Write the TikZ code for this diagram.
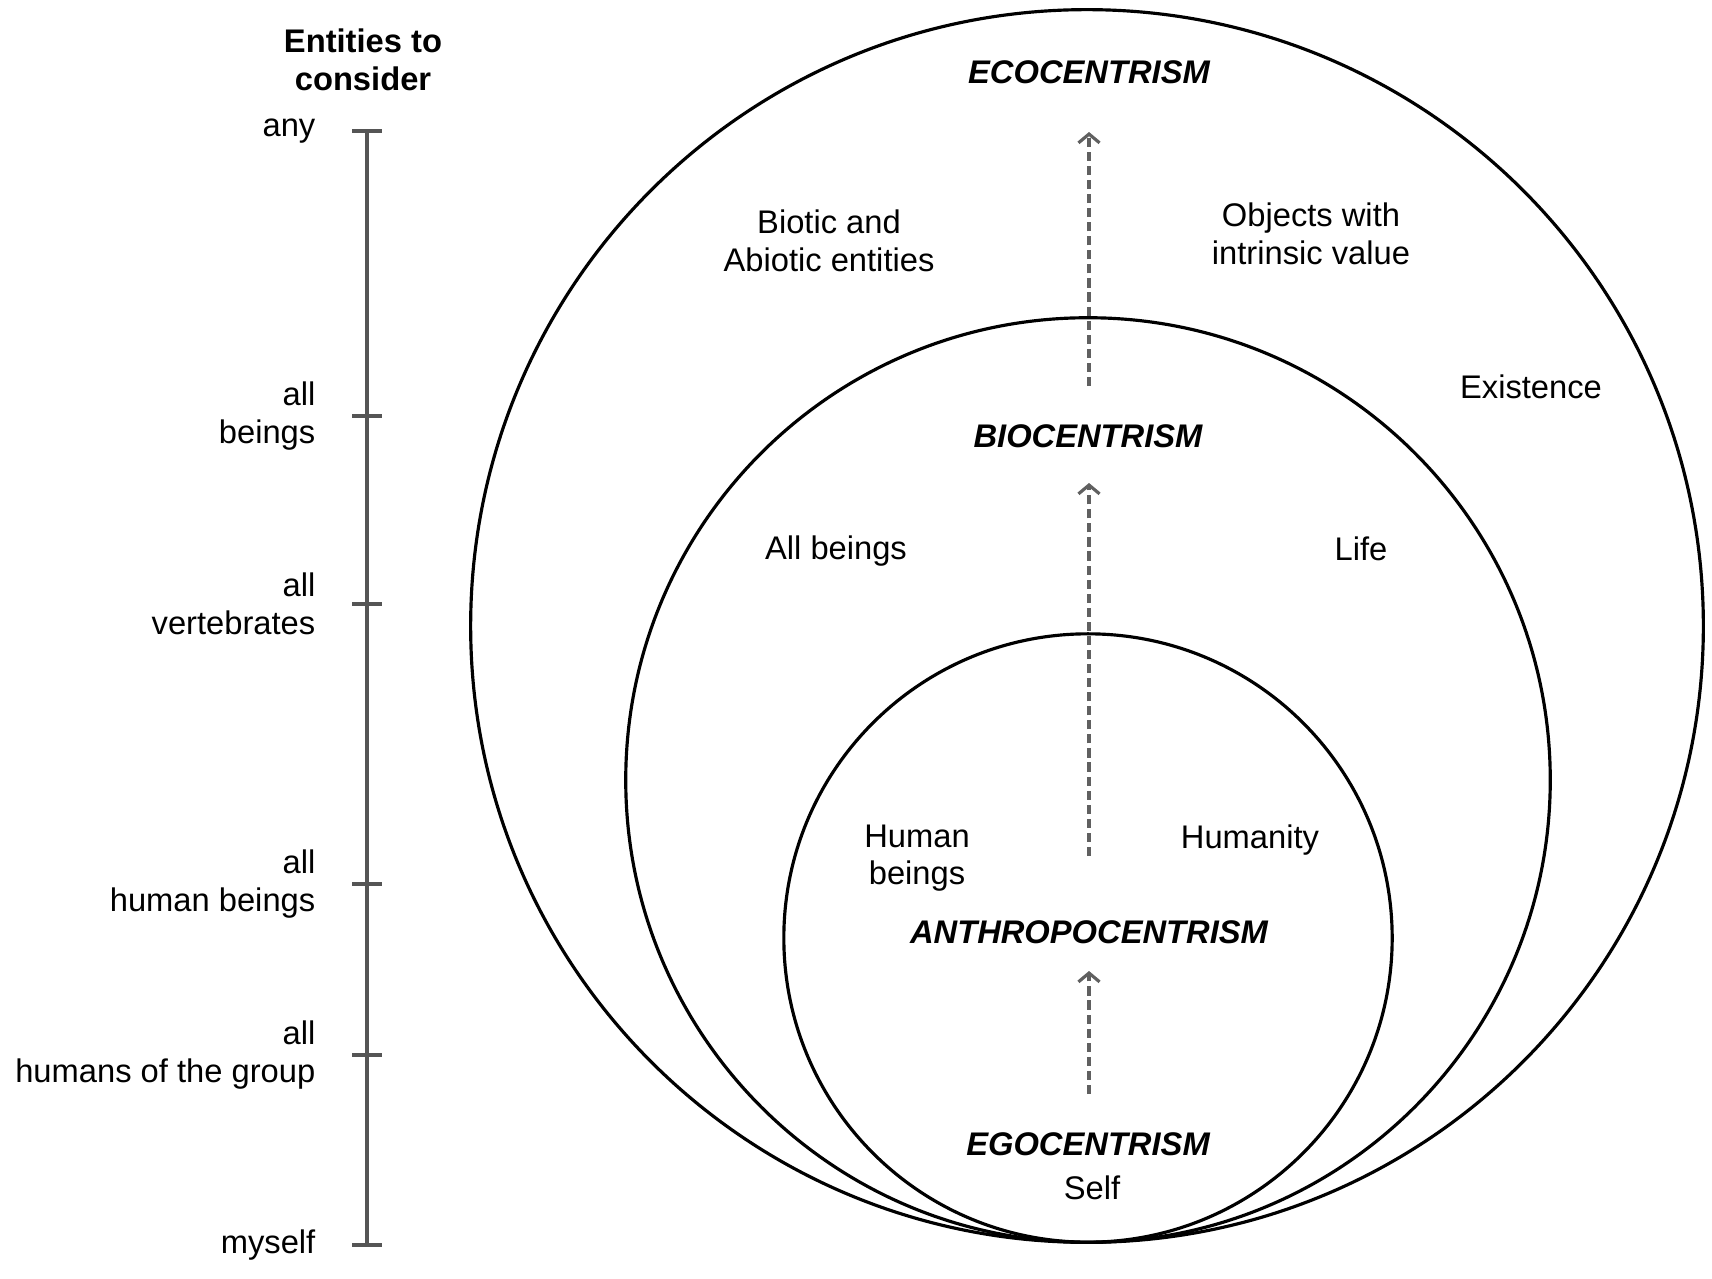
\documentclass[tikz,border=0pt]{standalone}
\usepackage{fontspec}
\setmainfont{Liberation Sans}
\usetikzlibrary{arrows.meta, positioning}
\definecolor{scalegray}{HTML}{555555}
\definecolor{arrowgray}{HTML}{606060}

\begin{document}
\begin{tikzpicture}[x=0.01cm, y=-0.01cm, font=\fontsize{9.3}{10.7}\selectfont,
  ring/.style={circle, draw=black, line width=0.9pt, inner sep=0pt},
  school/.style={font=\fontsize{9.3}{10.7}\selectfont\bfseries\itshape, inner sep=0pt},
  scope text/.style={align=center, inner sep=0pt},
  level/.style={align=right, anchor=east, inner sep=0pt},
  tick/.style={draw=scalegray, line width=1.1pt},
  widen/.style={draw=arrowgray, line width=0.9pt, dash pattern=on 2.6pt off 1.4pt, -{Straight Barb[length=2.5pt,width=6pt]}}]
\useasboundingbox (0,0) rectangle (1712,1279);
% circles, all touching at the bottom
\node[ring, minimum size=12.32cm] (eco) at (1087,626) {};
\node[ring, minimum size=9.24cm] (bio) at (1088,780) {};
\node[ring, minimum size=6.08cm] (anthro) at (1088,938) {};
% scale on the left
\node[font=\fontsize{9.3}{10.7}\selectfont\bfseries, align=center, inner sep=0pt] (head) at (363,60) {Entities to\\consider};
\foreach \n/\y/\t in {any/131/any, beings/416/{all\\beings}, vert/604/{all\\vertebrates}, humans/884/{all\\human beings}, group/1055/{all\\humans of the group}, myself/1245/myself}{
  \coordinate (t-\n) at (367,\y);
  \draw[tick] (352,\y) -- (382,\y);
  \node[level] (l-\n) at (316,\y) {\t};
}
\draw[tick] (t-any) -- (t-myself);
% schools
\node[school] (ecocentrism) at (1089,72) {ECOCENTRISM};
\node[school] (biocentrism) at (1088,436) {BIOCENTRISM};
\node[school] (anthropocentrism) at (1089,932) {ANTHROPOCENTRISM};
\node[school] (egocentrism) at (1088,1144) {EGOCENTRISM};
% texts
\node[scope text] (biotic) at (829,241) {Biotic and\\Abiotic entities};
\node[scope text] (objects) at (1311,234) {Objects with\\intrinsic value};
\node[scope text] (existence) at (1531,387) {Existence};
\node[scope text] (allbeings) at (836,551) {All beings};
\node[scope text] (life) at (1361,549) {Life};
\node[scope text] (human) at (917,858) {Human\\beings};
\node[scope text] (humanity) at (1250,840) {Humanity};
\node[scope text] (self) at (1092,1188) {Self};
% arrows
\coordinate (a1s) at (1089,386);
\coordinate (a1e) at (1089,132);
\coordinate (a2s) at (1089,856);
\coordinate (a2e) at (1089,483);
\coordinate (a3s) at (1089,1094);
\coordinate (a3e) at (1089,971);
\draw[widen] (a1s) -- (a1e);
\draw[widen] (a2s) -- (a2e);
\draw[widen] (a3s) -- (a3e);
\end{tikzpicture}
\end{document}
